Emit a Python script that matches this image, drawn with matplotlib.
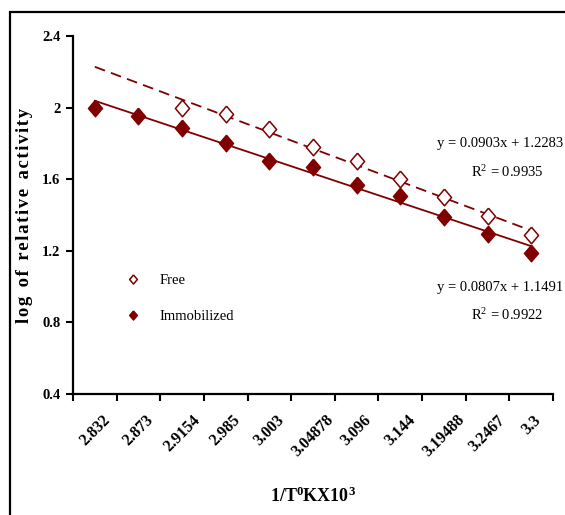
import numpy as np
import matplotlib
matplotlib.use("Agg")
import matplotlib.pyplot as plt
from matplotlib.ticker import FixedLocator, FuncFormatter, NullFormatter
from matplotlib.patches import Rectangle

categories = ["2.832", "2.873", "2.9154", "2.985", "3.003", "3.04878",
              "3.096", "3.144", "3.19488", "3.2467", "3.3"]
free_vals = [None, None, 2.0, 1.965, 1.88, 1.78, 1.70, 1.60, 1.50, 1.395, 1.29]
immob_vals = [2.0, 1.955, 1.888, 1.80, 1.70, 1.667, 1.566, 1.506, 1.39, 1.294, 1.186]
yticks = [0.4, 0.8, 1.2, 1.6, 2.0, 2.4]
eq_free = "y = 0.0903x + 1.2283"
r2_free = "R$^2$ = 0.9935"
eq_immob = "y = 0.0807x + 1.1491"
r2_immob = "R$^2$ = 0.9922"

plt.rcParams['font.family'] = ['Liberation Serif', 'DejaVu Serif']
plt.rcParams['mathtext.fontset'] = 'custom'
plt.rcParams['mathtext.rm'] = 'Liberation Serif'
plt.rcParams['mathtext.bf'] = 'Liberation Serif:bold'
plt.rcParams['mathtext.it'] = 'Liberation Serif:italic'

color = '#800000'
W, H = 565, 515
fig = plt.figure(figsize=(W / 100, H / 100), dpi=100)
ax = fig.add_axes([73 / W, 1 - 394 / H, (553 - 73) / W, (394 - 36) / H])

x = np.arange(1, len(categories) + 1)
fx = np.array([xi for xi, v in zip(x, free_vals) if v is not None], dtype=float)
fy = np.array([v for v in free_vals if v is not None], dtype=float)
iy = np.array(immob_vals, dtype=float)

diamond = [(0, 1), (0.85, 0), (0, -1), (-0.85, 0), (0, 1)]

# trendlines
pf = np.polyfit(fx, fy, 1)
pi = np.polyfit(x, iy, 1)
xe = np.array([x[0], x[-1]], dtype=float)
ax.plot(xe, np.polyval(pf, xe), color=color, lw=1.3, ls=(0, (6, 3.5)), zorder=2)
ax.plot(xe, np.polyval(pi, xe), color=color, lw=1.3, ls='-', zorder=2)

ax.plot(fx, fy, ls='none', marker=diamond, ms=12, mfc='white', mec=color,
        mew=1.1, label='Free', zorder=3)
ax.plot(x, iy, ls='none', marker=diamond, ms=12, mfc=color, mec=color,
        mew=1.0, label='Immobilized', zorder=3)

ax.set_xlim(0.5, len(categories) + 0.5)
ax.set_ylim(0.4, 2.4)

for s in ['top', 'right']:
    ax.spines[s].set_visible(False)
for s in ['left', 'bottom']:
    ax.spines[s].set_linewidth(1.6)

ax.xaxis.set_major_locator(FixedLocator(np.arange(0.5, len(categories) + 1, 1.0)))
ax.xaxis.set_major_formatter(NullFormatter())
ax.xaxis.set_minor_locator(FixedLocator(x))
ax.set_xticklabels(categories, minor=True, rotation=45, ha='center', va='top',
                   fontsize=11.5, fontweight='bold')
ax.tick_params(axis='x', which='major', direction='out', length=5, width=1.5)
ax.tick_params(axis='x', which='minor', length=0, pad=13)

ax.set_yticks(yticks)
ax.yaxis.set_major_formatter(FuncFormatter(lambda v, p: '%g' % v))
ax.tick_params(axis='y', direction='out', length=5, width=1.5, pad=4,
               labelsize=10.5)
for lbl in ax.get_yticklabels():
    lbl.set_fontweight('bold')

ax.set_ylabel('l o g  o f  r e l a t i v e  a c t i v i t y'.replace('  ', '\u2002').replace(' ', '\u200a'),
              fontsize=13.5, fontweight='bold')
ax.yaxis.set_label_coords((33 - 73) / 480, 0.5)
fig.text(313 / W, 1 - 496 / H, r'1/T$^{\mathbf{0}}$KX10$^{\mathbf{3}}$',
         ha='center', va='center', fontsize=13, fontweight='bold')

leg = ax.legend(loc='upper left', bbox_to_anchor=((113 - 73) / 480, (394 - 261) / 358),
                frameon=False, markerscale=0.55, handlelength=1.0,
                handletextpad=1.3, labelspacing=1.55, fontsize=10.5)

fig.text(563 / W, 1 - 144 / H, eq_free, ha='right', va='center', fontsize=10.5)
fig.text(507 / W, 1 - 172 / H, r2_free, ha='center', va='center', fontsize=10.5)
fig.text(563 / W, 1 - 287 / H, eq_immob, ha='right', va='center', fontsize=10.5)
fig.text(507 / W, 1 - 315 / H, r2_immob, ha='center', va='center', fontsize=10.5)

fig.patches.append(Rectangle((10 / W, -0.1), 1.5, 1 - 12 / H + 0.1,
                             transform=fig.transFigure, fill=False,
                             edgecolor='black', lw=1.6, clip_on=False))

fig.savefig('out.png', dpi=100)
